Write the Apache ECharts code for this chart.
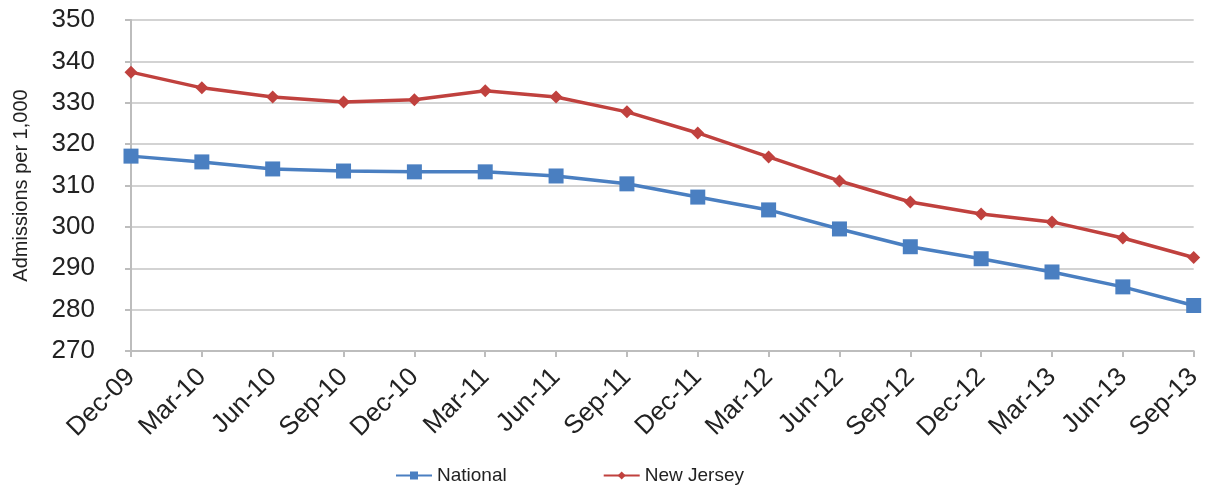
<!DOCTYPE html>
<html>
<head>
<meta charset="utf-8">
<script src="https://cdn.jsdelivr.net/npm/echarts@6/dist/echarts.min.js"></script>
<style>
  html, body { margin: 0; padding: 0; background: #fff; }
  #main { width: 1205px; height: 490px; }
</style>
</head>
<body>
<div id="main"></div>
<script>
// quarters on the x axis
var quarters = ['Dec-09', 'Mar-10', 'Jun-10', 'Sep-10', 'Dec-10', 'Mar-11', 'Jun-11', 'Sep-11',
    'Dec-11', 'Mar-12', 'Jun-12', 'Sep-12', 'Dec-12', 'Mar-13', 'Jun-13', 'Sep-13']

// admissions per 1,000
var national = [317.1, 315.7, 314.0, 313.5, 313.3, 313.3, 312.3, 310.4,
    307.2, 304.1, 299.5, 295.2, 292.3, 289.1, 285.5, 281.0]
var newJersey = [337.4, 333.6, 331.4, 330.2, 330.7, 332.9, 331.4, 327.8,
    322.7, 316.9, 311.1, 306.0, 303.1, 301.2, 297.3, 292.6]

var yTicks = { min: 270, max: 350, step: 10 }

var myChart = echarts.init(document.getElementById('main'))

var option = {
    backgroundColor: '#fff',
    animation: false,
    textStyle: { fontFamily: 'Liberation Sans, Arial, sans-serif' },
    legend: {
        bottom: 0,
        left: 390,
        itemWidth: 36,
        itemHeight: 10,
        itemGap: 96,
        textStyle: { fontSize: 19, color: '#222' },
        data: ['National', 'New Jersey']
    },
    grid: {
        left: 131,
        right: 9,
        top: 20,
        bottom: 139
    },
    xAxis: {
        type: 'category',
        boundaryGap: false,
        data: quarters,
        axisLine: { lineStyle: { color: '#bdbdbd', width: 2 } },
        axisTick: { show: true, length: 6, lineStyle: { color: '#bdbdbd', width: 2 } },
        axisLabel: {
            rotate: 45,
            fontSize: 26,
            color: '#222',
            margin: 22
        }
    },
    yAxis: {
        type: 'value',
        min: yTicks.min,
        max: yTicks.max,
        interval: yTicks.step,
        name: 'Admissions per 1,000',
        nameLocation: 'middle',
        nameGap: 100,
        nameTextStyle: { fontSize: 20, color: '#222' },
        axisLine: { show: true, lineStyle: { color: '#bdbdbd', width: 2 } },
        axisTick: { show: true, length: 6, lineStyle: { color: '#bdbdbd', width: 2 } },
        axisLabel: { fontSize: 26, color: '#222', margin: 36 },
        splitLine: { lineStyle: { color: '#d3d3d3', width: 2 } }
    },
    series: [
        {
            name: 'National',
            type: 'line',
            data: national,
            symbol: 'rect',
            symbolSize: 15,
            lineStyle: { color: '#4a7fc1', width: 3.5 },
            itemStyle: { color: '#4a7fc1' }
        },
        {
            name: 'New Jersey',
            type: 'line',
            data: newJersey,
            symbol: 'diamond',
            symbolSize: 13,
            lineStyle: { color: '#c0413e', width: 3.5 },
            itemStyle: { color: '#c0413e' }
        }
    ]
}

myChart.setOption(option)
</script>
</body>
</html>
